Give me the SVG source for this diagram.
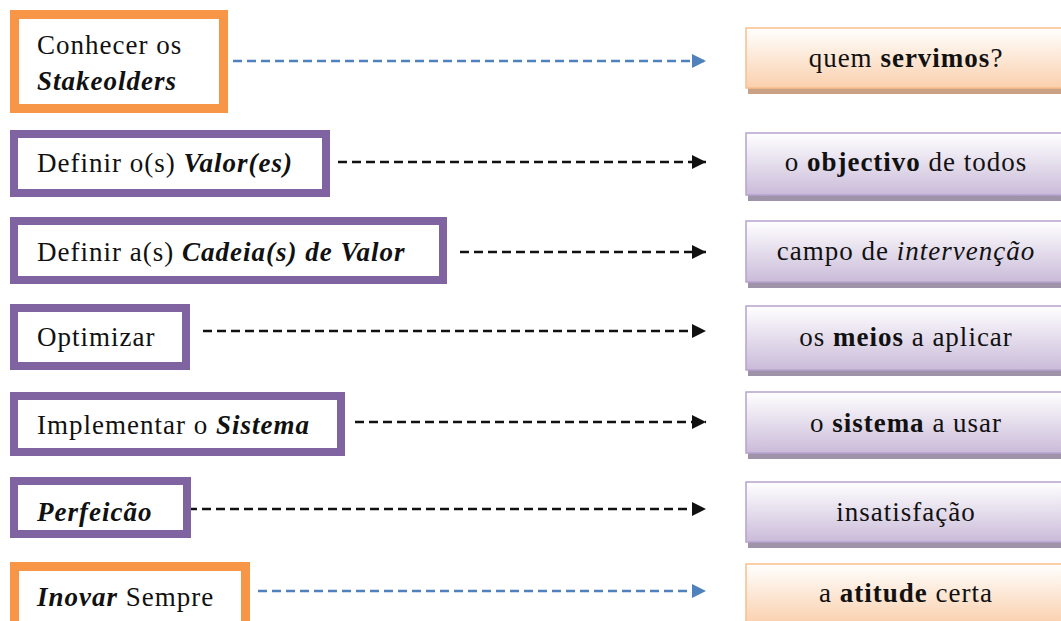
<svg xmlns="http://www.w3.org/2000/svg" width="1061" height="621" viewBox="0 0 1061 621">
<style>
text{font-family:"Liberation Serif","DejaVu Serif",serif;font-size:27px;letter-spacing:1px;fill:#111}
.bi{font-weight:bold;font-style:italic}
.b{font-weight:bold}
.i{font-style:italic}
.lo{fill:#fff;stroke:#F79646;stroke-width:9}
.lp{fill:#fff;stroke:#8064A2;stroke-width:8}
.ro{fill:url(#go);stroke:#F9BE8D;stroke-width:1.5}
.rp{fill:url(#gp);stroke:#B7A3CF;stroke-width:1.5}
.so{fill:#C9A185}
.sp{fill:#9E93A8}
.rt{text-anchor:middle}
.ck{fill:none;stroke:#111;stroke-width:2.5;stroke-dasharray:9 5}
.cb{fill:none;stroke:#4F81BD;stroke-width:2.5;stroke-dasharray:9 5}
</style>
<defs>
<linearGradient id="go" x1="0" y1="0" x2="0" y2="1"><stop offset="0" stop-color="#FFFFFF"/><stop offset="1" stop-color="#FAD0AD"/></linearGradient>
<linearGradient id="gp" x1="0" y1="0" x2="0" y2="1"><stop offset="0" stop-color="#FFFFFF"/><stop offset="1" stop-color="#CABBD9"/></linearGradient>
<marker id="ak" markerWidth="14" markerHeight="14" refX="14" refY="7" orient="auto" markerUnits="userSpaceOnUse"><path d="M0,0 L14,7 L0,14 Z" fill="#111"/></marker>
<marker id="ab" markerWidth="14" markerHeight="14" refX="14" refY="7" orient="auto" markerUnits="userSpaceOnUse"><path d="M0,0 L14,7 L0,14 Z" fill="#4F81BD"/></marker>
</defs>
<g id="connectors">
<line class="cb" x1="233" y1="61" x2="706" y2="61" marker-end="url(#ab)"/>
<line class="ck" x1="338" y1="162" x2="706" y2="162" marker-end="url(#ak)"/>
<line class="ck" x1="460" y1="252" x2="706" y2="252" marker-end="url(#ak)"/>
<line class="ck" x1="203" y1="331" x2="706" y2="331" marker-end="url(#ak)"/>
<line class="ck" x1="355" y1="422" x2="706" y2="422" marker-end="url(#ak)"/>
<line class="ck" x1="188" y1="509" x2="706" y2="509" marker-end="url(#ak)"/>
<line class="cb" x1="258" y1="591" x2="706" y2="591" marker-end="url(#ab)"/>
</g>
<g id="l1"><rect class="lo" x="14.5" y="14.5" width="209" height="94"/><text x="37" y="54">Conhecer os</text><text x="37" y="90" class="bi">Stakeolders</text></g>
<g id="l2"><rect class="lp" x="14" y="134" width="312" height="59"/><text x="37" y="172">Definir o(s) <tspan class="bi">Valor(es)</tspan></text></g>
<g id="l3"><rect class="lp" x="14" y="221" width="429" height="59"/><text x="37" y="261">Definir a(s) <tspan class="bi">Cadeia(s) de Valor</tspan></text></g>
<g id="l4"><rect class="lp" x="14" y="308" width="172" height="58"/><text x="37" y="346">Optimizar</text></g>
<g id="l5"><rect class="lp" x="14" y="396" width="327" height="56"/><text x="37" y="434">Implementar o <tspan class="bi">Sistema</tspan></text></g>
<g id="l6"><rect class="lp" x="14" y="481" width="173" height="53"/><text x="37" y="521" class="bi">Perfeicão</text></g>
<g id="l7"><rect class="lo" x="14.5" y="566.5" width="231" height="70"/><text x="37" y="606"><tspan class="bi">Inovar</tspan> Sempre</text></g>
<g id="r1"><rect class="so" x="748" y="33" width="320" height="61"/><rect class="ro" x="746" y="28" width="320" height="60"/><text class="rt" x="906" y="67">quem <tspan class="b">servimos</tspan>?</text></g>
<g id="r2"><rect class="sp" x="748" y="138" width="320" height="63"/><rect class="rp" x="746" y="133" width="320" height="62"/><text class="rt" x="906" y="171">o <tspan class="b">objectivo</tspan> de todos</text></g>
<g id="r3"><rect class="sp" x="748" y="226" width="320" height="62"/><rect class="rp" x="746" y="221" width="320" height="61"/><text class="rt" x="906" y="260">campo de <tspan class="i">intervenção</tspan></text></g>
<g id="r4"><rect class="sp" x="748" y="311" width="320" height="65"/><rect class="rp" x="746" y="306" width="320" height="64"/><text class="rt" x="906" y="346">os <tspan class="b">meios</tspan> a aplicar</text></g>
<g id="r5"><rect class="sp" x="748" y="397" width="320" height="62"/><rect class="rp" x="746" y="392" width="320" height="61"/><text class="rt" x="906" y="432">o <tspan class="b">sistema</tspan> a usar</text></g>
<g id="r6"><rect class="sp" x="748" y="487" width="320" height="61"/><rect class="rp" x="746" y="482" width="320" height="60"/><text class="rt" x="906" y="521">insatisfação</text></g>
<g id="r7"><rect class="so" x="748" y="569" width="320" height="61"/><rect class="ro" x="746" y="564" width="320" height="60"/><text class="rt" x="906" y="602">a <tspan class="b">atitude</tspan> certa</text></g>
</svg>
